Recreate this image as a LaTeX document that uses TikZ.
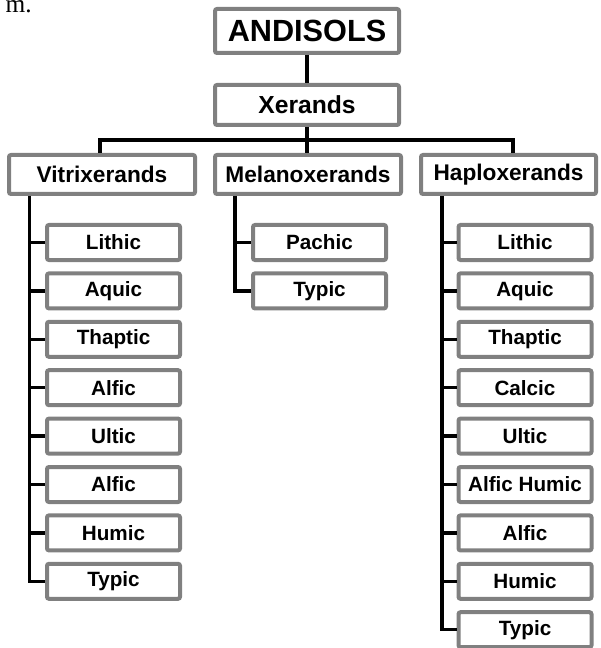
\documentclass[tikz,border=0pt]{standalone}
\usepackage{fontspec}
\setmainfont{Liberation Sans}
\newfontfamily\fragfont{Liberation Serif}
\begin{document}
\begin{tikzpicture}[x=0.75pt,y=-0.75pt,
  box/.style={draw=gray,fill=white,line width=3pt,rounded corners=1.5pt,inner sep=0pt,font=\bfseries},
  toplevel/.style={box,minimum width=138pt,minimum height=33pt,font=\fontsize{23}{26}\bfseries\selectfont},
  suborder/.style={box,minimum width=138pt,minimum height=30pt,font=\fontsize{18.5}{21}\bfseries\selectfont},
  grgroup/.style={box,minimum width=139.5pt,minimum height=29.25pt,font=\fontsize{17}{20}\bfseries\selectfont},
  subgroup/.style={box,minimum width=99.75pt,minimum height=26.25pt,font=\fontsize{15.5}{18}\bfseries\selectfont},
  link/.style={line width=2.6pt}]
\useasboundingbox (0,0) rectangle (600,648);
\node[anchor=base east,inner sep=0pt,font=\fragfont\fontsize{19}{21}\selectfont] (frag) at (32,12.5) {m.};
% order and suborder
\node[toplevel] (andisols) at (307,31) {ANDISOLS};
\node[suborder] (xerands) at (307,105) {Xerands};
\draw[link] (andisols) -- (xerands);
% great groups
\node[grgroup] (vitri) at (102,174.5) {Vitrixerands};
\node[grgroup] (melano) at (308,174.5) {Melanoxerands};
\node[grgroup,minimum width=131.25pt] (haplo) at (508.5,174.5) {Haploxerands};
\coordinate (busL) at (100,140);
\coordinate (busR) at (513,140);
\draw[link] (xerands.south) -- (xerands.south |- busL);
\draw[link] (busL |- vitri.north) -- (busL) -- (busR) -- (busR |- haplo.north);
\draw[link] (xerands.south |- busL) -- (xerands.south |- melano.north);
% subgroups of Vitrixerands
\node[subgroup] (v1) at (113.5,242.5) {Lithic};
\node[subgroup] (v2) at (113.5,290.9) {Aquic};
\node[subgroup] (v3) at (113.5,339.3) {Thaptic};
\node[subgroup] (v4) at (113.5,387.7) {Alfic};
\node[subgroup] (v5) at (113.5,436.1) {Ultic};
\node[subgroup] (v6) at (113.5,484.5) {Alfic};
\node[subgroup] (v7) at (113.5,532.9) {Humic};
\node[subgroup] (v8) at (113.5,581.3) {Typic};
\coordinate (vx) at (29.5,196);
\draw[link] (vx) -- (vx |- v8.west) -- (v8.west);
\foreach \n in {v1,v2,v3,v4,v5,v6,v7}
  \draw[link] (vx |- \n.west) -- (\n.west);
% subgroups of Melanoxerands
\node[subgroup] (m1) at (319.5,242.5) {Pachic};
\node[subgroup] (m2) at (319.5,290.9) {Typic};
\coordinate (mx) at (235,196);
\draw[link] (mx) -- (mx |- m2.west) -- (m2.west);
\draw[link] (mx |- m1.west) -- (m1.west);
% subgroups of Haploxerands
\node[subgroup] (h1) at (525,242.5) {Lithic};
\node[subgroup] (h2) at (525,290.9) {Aquic};
\node[subgroup] (h3) at (525,339.3) {Thaptic};
\node[subgroup] (h4) at (525,387.7) {Calcic};
\node[subgroup] (h5) at (525,436.1) {Ultic};
\node[subgroup] (h6) at (525,484.5) {Alfic Humic};
\node[subgroup] (h7) at (525,532.9) {Alfic};
\node[subgroup] (h8) at (525,581.3) {Humic};
\node[subgroup] (h9) at (525,629.7) {Typic};
\coordinate (hx) at (442,196);
\draw[link] (hx) -- (hx |- h9.west) -- (h9.west);
\foreach \n in {h1,h2,h3,h4,h5,h6,h7,h8}
  \draw[link] (hx |- \n.west) -- (\n.west);
\end{tikzpicture}
\end{document}
